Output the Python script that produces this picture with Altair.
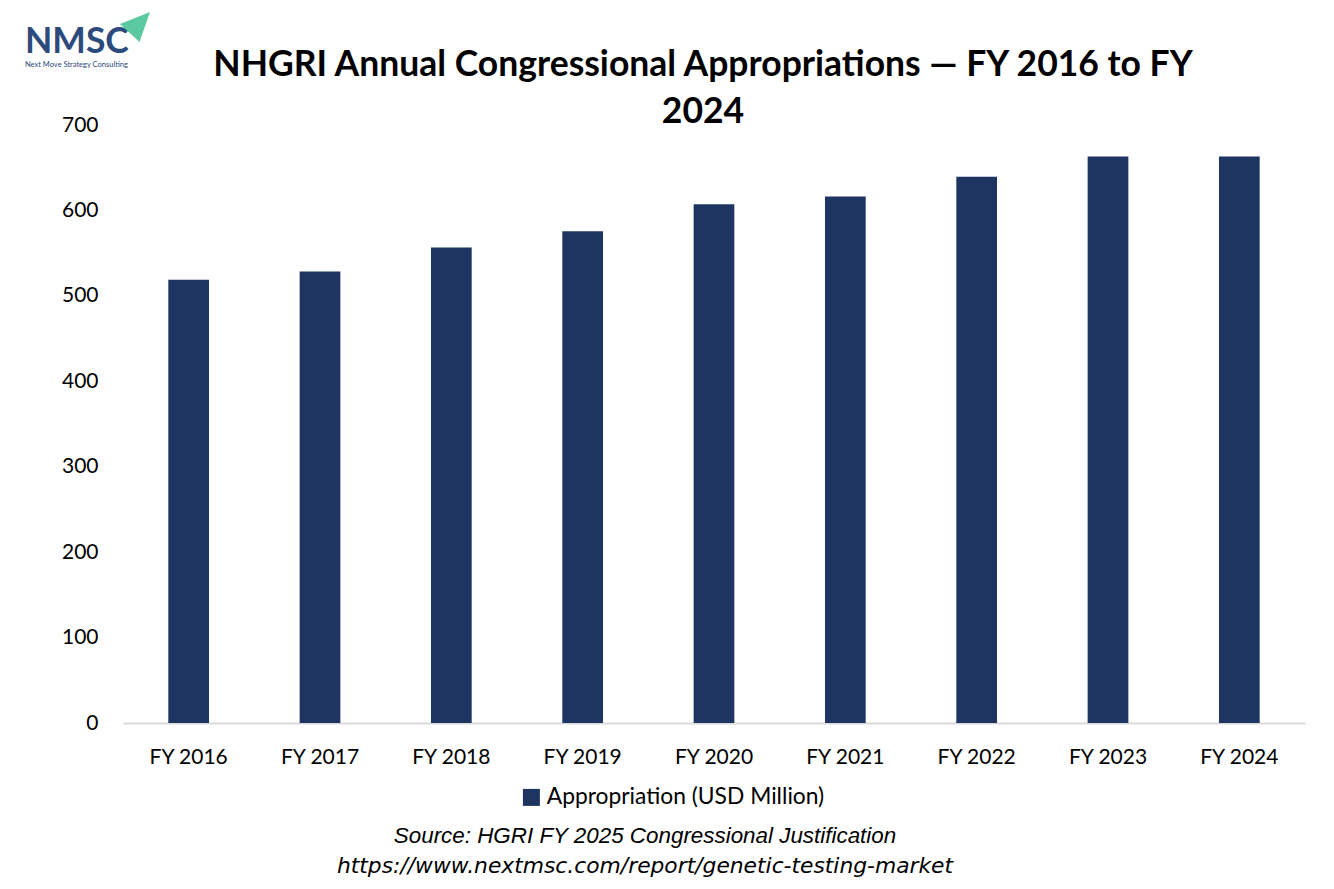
import altair as alt
import pandas as pd

years = ["FY 2016", "FY 2017", "FY 2018", "FY 2019", "FY 2020",
         "FY 2021", "FY 2022", "FY 2023", "FY 2024"]
values = [518.8, 528.4, 556.5, 575.6, 607.1, 616.3, 639.4, 663.2, 663.2]
series_name = "Appropriation (USD Million)"
y_ticks = [0, 100, 200, 300, 400, 500, 600, 700]

title_lines = ["NHGRI Annual Congressional Appropriations \u2014 FY 2016 to FY", "2024"]
source_lines = ["Source: HGRI FY 2025 Congressional Justification",
                "https://www.nextmsc.com/report/genetic-testing-market"]

BAR = "#1f3561"
LOGO = "#2d4a7c"
FONT = "Lato"

df = pd.DataFrame({"year": years, "value": values, "series": [series_name] * len(years)})

bars = alt.Chart(df).mark_bar().encode(
    x=alt.X("year:N", sort=years, title=None,
            scale=alt.Scale(paddingInner=0.69, paddingOuter=0.345),
            axis=alt.Axis(labelAngle=0, labelFont=FONT, labelFontSize=21, labelColor="#000000",
                          labelPadding=23, ticks=False, domain=True, domainColor="#d9d9d9",
                          domainWidth=2, grid=False)),
    y=alt.Y("value:Q", title=None,
            scale=alt.Scale(domain=[0, 700], nice=False),
            axis=alt.Axis(values=y_ticks, labelFont=FONT, labelFontSize=21, labelColor="#000000",
                          labelPadding=25, ticks=False, domain=False, grid=False)),
    color=alt.Color("series:N", scale=alt.Scale(range=[BAR]),
                    legend=alt.Legend(title=None, orient="none", legendX=397, legendY=661,
                                      symbolType="square", symbolSize=289, symbolStrokeWidth=0,
                                      labelFont=FONT, labelFontSize=22.8, labelColor="#000000",
                                      labelOffset=4, labelLimit=0)),
)

def text_layer(txt, x, y, size, weight="normal", style="normal", font=FONT, color="#000000", align="center"):
    return alt.Chart(pd.DataFrame({"t": [txt]})).mark_text(
        font=font, fontSize=size, fontWeight=weight, fontStyle=style, color=color,
        align=align, baseline="alphabetic"
    ).encode(x=alt.value(x), y=alt.value(y), text="t:N")

layers = [bars,
          text_layer(title_lines[0], 580, -49, 35.5, weight="bold"),
          text_layer(title_lines[1], 580, -2, 35.5, weight="bold"),
          text_layer(source_lines[0], 522, 718, 22.4, style="italic", font="Liberation Sans"),
          text_layer(source_lines[1], 522, 748, 21.8, style="italic", font="DejaVu Sans"),
          text_layer("NMSC", -98, -72, 35.5, weight="bold", color=LOGO, align="left"),
          text_layer("Next Move Strategy Consulting", -98, -58, 7.5, color=LOGO, align="left"),
          ]

tri = alt.Chart(pd.DataFrame({"k": [1]})).mark_point(
    shape="M -1 -0.2 L 1 -1 L 0.3 1 Z", filled=True, color="#5ccaa0", opacity=1, size=900
).encode(x=alt.value(12), y=alt.value(-98))
layers.append(tri)

chart = alt.layer(*layers).properties(
    width=1182, height=598,
    padding={"left": 115, "top": 117, "right": 21, "bottom": 158},
    autosize=alt.AutoSizeParams(type="none"),
).configure_view(stroke=None)

chart.save("out.html", embed_options={"renderer": "svg", "actions": False})
